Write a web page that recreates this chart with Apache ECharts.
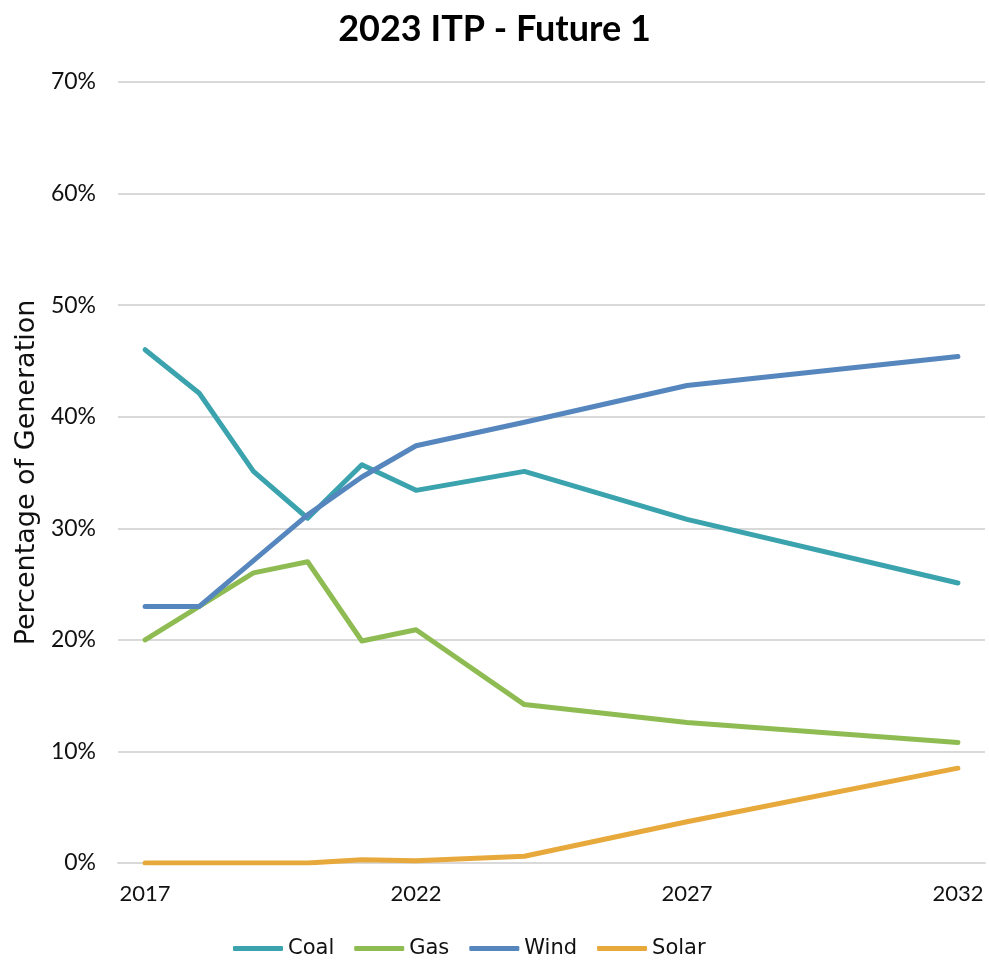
<!DOCTYPE html>
<html>
<head>
<meta charset="utf-8">
<script src="https://cdn.jsdelivr.net/npm/echarts@6/dist/echarts.min.js"></script>
<style>
html,body{margin:0;padding:0;background:#fff;}
#chart{width:989px;height:962px;}
</style>
</head>
<body>
<div id="chart"></div>
<script>
const years = ['2017','2018','2019','2020','2021','2022','2023','2024','2025','2026','2027','2028','2029','2030','2031','2032'];
const coal  = [46.0, 42.1, 35.1, 30.9, 35.7, 33.4, null, 35.1, null, null, 30.8, null, null, null, null, 25.1];
const gas   = [20.0, 23.0, 26.0, 27.0, 19.9, 20.9, null, 14.2, null, null, 12.6, null, null, null, null, 10.8];
const wind  = [23.0, 23.0, 27.1, 31.2, 34.6, 37.4, null, 39.5, null, null, 42.8, null, null, null, null, 45.4];
const solar = [0.0, 0.0, 0.0, 0.0, 0.3, 0.2, null, 0.6, null, null, 3.7, null, null, null, null, 8.5];
const yTicks = [0, 10, 20, 30, 40, 50, 60, 70];

const font = 'Lato, "Noto Sans", sans-serif';
const wide = '"DejaVu Sans", sans-serif';
const colors = ['#3AA3AD', '#8EBC52', '#5686BE', '#E8A93C'];
const names = ['Coal', 'Gas', 'Wind', 'Solar'];
const data = [coal, gas, wind, solar];

const chart = echarts.init(document.getElementById('chart'), null, {renderer: 'canvas'});
chart.setOption({
  animation: false,
  backgroundColor: '#fff',
  title: {
    text: '2023 ITP - Future 1',
    left: 'center',
    top: 6,
    textStyle: {fontFamily: font, fontSize: 36, fontWeight: 'bold', color: '#000'}
  },
  legend: {
    bottom: 1,
    padding: [0, 0, 2, 0],
    left: 233,
    itemWidth: 50,
    itemHeight: 5,
    itemGap: 20,
    icon: 'roundRect',
    data: names,
    textStyle: {fontFamily: wide, fontSize: 21, color: '#111'}
  },
  grid: {left: 118, right: 4, top: 82, bottom: 99, containLabel: false},
  xAxis: {
    type: 'category',
    data: years,
    boundaryGap: true,
    axisLine: {lineStyle: {color: '#d9d9d9', width: 2}},
    axisTick: {show: false},
    axisLabel: {interval: 4, fontFamily: font, fontSize: 22, color: '#111', margin: 20},
    splitLine: {show: false}
  },
  yAxis: {
    type: 'value',
    min: yTicks[0],
    max: yTicks[yTicks.length - 1],
    interval: 10,
    name: 'Percentage of Generation',
    nameLocation: 'middle',
    nameGap: 75,
    nameTextStyle: {fontFamily: wide, fontSize: 27, color: '#111'},
    axisLine: {show: false},
    axisTick: {show: false},
    axisLabel: {formatter: '{value}%', fontFamily: font, fontSize: 23, color: '#111', margin: 22},
    splitLine: {lineStyle: {color: '#d9d9d9', width: 2}}
  },
  series: names.map((n, i) => ({
    name: n,
    type: 'line',
    data: data[i],
    connectNulls: true,
    showSymbol: false,
    symbol: 'none',
    lineStyle: {color: colors[i], width: 5, cap: 'round', join: 'round'},
    itemStyle: {color: colors[i]}
  }))
});
</script>
</body>
</html>
